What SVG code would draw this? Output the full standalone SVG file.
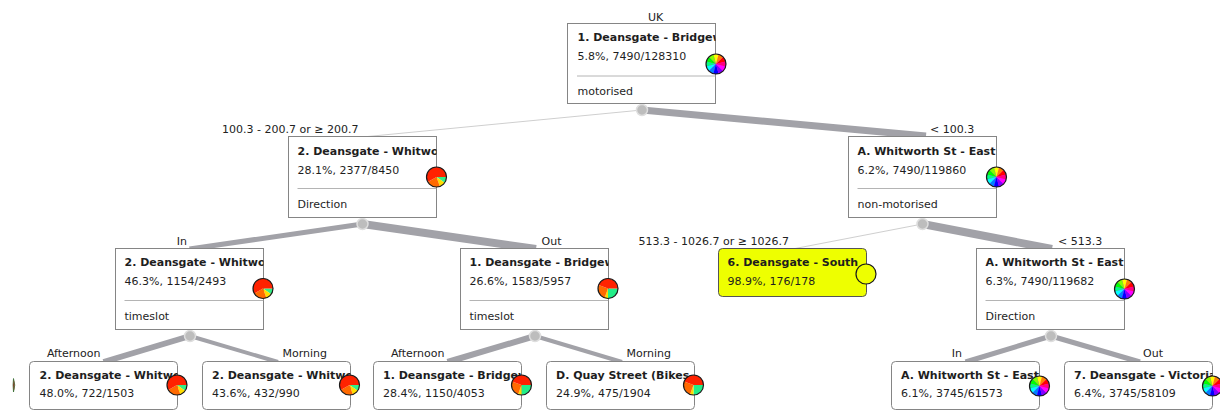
<svg xmlns="http://www.w3.org/2000/svg" xmlns:xlink="http://www.w3.org/1999/xlink" width="1220" height="413" viewBox="0 0 1220 413">
<style>
.box{fill:#fff;stroke:#858585;stroke-width:1}
.yel{fill:#eeff00;stroke:#555;stroke-width:1}
.t{font-family:"DejaVu Sans",Verdana,sans-serif;font-size:11px;fill:#1e1e1e}
.b{font-weight:bold}
.sep{stroke:#b4b4b4;stroke-width:1}
.lbl{font-family:"DejaVu Sans",Verdana,sans-serif;font-size:11px;fill:#222}
.end{text-anchor:end}
.edge{stroke:#a2a2a8;fill:none}
.thin{stroke:#cfcfcf;stroke-width:1}
.dot{fill:#bdbdbd;stroke:#dedede;stroke-width:1.5}
.ring{fill:none;stroke:#1a1a1a;stroke-width:1.2}
</style>
<defs>
<g id="pieRainbow">
<circle r="10" fill="#ff00ff"/>
<path d="M0,0 L9.659,-2.588 A10,10 0 0 0 7.071,-7.071 Z" fill="#ff0000"/>
<path d="M0,0 L7.071,-7.071 A10,10 0 0 0 2.588,-9.659 Z" fill="#ff8000"/>
<path d="M0,0 L2.588,-9.659 A10,10 0 0 0 -2.588,-9.659 Z" fill="#ffff00"/>
<path d="M0,0 L-2.588,-9.659 A10,10 0 0 0 -7.071,-7.071 Z" fill="#80ff00"/>
<path d="M0,0 L-7.071,-7.071 A10,10 0 0 0 -9.659,-2.588 Z" fill="#00ff00"/>
<path d="M0,0 L-9.659,-2.588 A10,10 0 0 0 -9.659,2.588 Z" fill="#00ff80"/>
<path d="M0,0 L-9.659,2.588 A10,10 0 0 0 -7.071,7.071 Z" fill="#00ffff"/>
<path d="M0,0 L-7.071,7.071 A10,10 0 0 0 -2.588,9.659 Z" fill="#0080ff"/>
<path d="M0,0 L-2.588,9.659 A10,10 0 0 0 2.588,9.659 Z" fill="#0000ff"/>
<path d="M0,0 L2.588,9.659 A10,10 0 0 0 7.071,7.071 Z" fill="#8000ff"/>
<path d="M0,0 L7.071,7.071 A10,10 0 0 0 9.659,2.588 Z" fill="#ff00ff"/>
<path d="M0,0 L9.659,2.588 A10,10 0 0 0 9.659,-2.588 Z" fill="#ff0080"/>
<circle r="10" class="ring"/>
</g>
<g id="pieRedA">
<path d="M0,0 L10,0 A10,10 0 0 1 8.192,5.736 Z" fill="#33ee88"/>
<path d="M0,0 L8.192,5.736 A10,10 0 0 1 3.420,9.397 Z" fill="#ffdd00"/>
<path d="M0,0 L3.420,9.397 A10,10 0 0 1 -8.660,5.0 Z" fill="#ff6a00"/>
<path d="M0,0 L-8.660,5.0 A10,10 0 1 1 10,0 Z" fill="#ff2200"/>
<circle r="10" class="ring"/>
</g>
<g id="pieRedB">
<path d="M0,0 L10,0 A10,10 0 0 1 0,10 Z" fill="#22ee88"/>
<path d="M0,0 L0,10 A10,10 0 0 1 -3.420,9.397 Z" fill="#ffdd00"/>
<path d="M0,0 L-3.420,9.397 A10,10 0 0 1 -9.397,-3.420 Z" fill="#ff6a00"/>
<path d="M0,0 L-9.397,-3.420 A10,10 0 0 1 10,0 Z" fill="#ff2200"/>
<circle r="10" class="ring"/>
</g>
<g id="pieYellow">
<circle r="10" fill="#eeff00" stroke="#1a1a1a" stroke-width="1.2"/>
</g>
</defs>

<g id="connectors">
<line class="thin" x1="642" y1="110" x2="362.5" y2="137"/>
<line class="edge" stroke-width="7" x1="642" y1="110" x2="926" y2="136"/>
<line class="edge" stroke-width="5" x1="362.5" y1="224" x2="189.5" y2="249"/>
<line class="edge" stroke-width="8" x1="362.5" y1="224" x2="536" y2="249"/>
<line class="thin" x1="922.5" y1="224" x2="792.5" y2="249"/>
<line class="edge" stroke-width="8" x1="922.5" y1="224" x2="1052" y2="249"/>
<line class="edge" stroke-width="6" x1="190" y1="336" x2="103.5" y2="362"/>
<line class="edge" stroke-width="4" x1="190" y1="336" x2="278" y2="362"/>
<line class="edge" stroke-width="6" x1="535" y1="336" x2="447.5" y2="362"/>
<line class="edge" stroke-width="4" x1="535" y1="336" x2="622" y2="362"/>
<line class="edge" stroke-width="5" x1="1051" y1="336" x2="965.5" y2="362"/>
<line class="edge" stroke-width="5" x1="1051" y1="336" x2="1140" y2="362"/>
<circle class="dot" cx="642" cy="110" r="5.5"/>
<circle class="dot" cx="362.5" cy="224" r="5.5"/>
<circle class="dot" cx="922.5" cy="224" r="5.5"/>
<circle class="dot" cx="190" cy="336" r="5.5"/>
<circle class="dot" cx="535" cy="336" r="5.5"/>
<circle class="dot" cx="1051" cy="336" r="5.5"/>
<text class="lbl" x="648" y="20.5">UK</text>
<text class="lbl end" x="358.5" y="132.5">100.3 - 200.7 or ≥ 200.7</text>
<text class="lbl" x="930" y="132.5">&lt; 100.3</text>
<text class="lbl end" x="187" y="245">In</text>
<text class="lbl" x="541.5" y="245">Out</text>
<text class="lbl end" x="789" y="245">513.3 - 1026.7 or ≥ 1026.7</text>
<text class="lbl" x="1058" y="245">&lt; 513.3</text>
<text class="lbl end" x="100.5" y="357">Afternoon</text>
<text class="lbl" x="282.5" y="357">Morning</text>
<text class="lbl end" x="444.5" y="357">Afternoon</text>
<text class="lbl" x="626.5" y="357">Morning</text>
<text class="lbl end" x="962" y="357">In</text>
<text class="lbl" x="1143" y="357">Out</text>
</g>

<g id="n-root">
<rect class="box" x="567.5" y="23.5" width="148" height="80"/>
<svg x="567.5" y="23.5" width="148" height="80">
<text class="t b" x="10" y="17.5">1. Deansgate - Bridgew</text>
<text class="t" x="10" y="36.5">5.8%, 7490/128310</text>
<line class="sep" x1="9.5" y1="52.5" x2="148" y2="52.5"/>
<text class="t" x="10" y="71.5">motorised</text>
</svg>
<use href="#pieRainbow" x="716" y="64"/>
</g>

<g id="n-l2a">
<rect class="box" x="288.5" y="136.5" width="148" height="81"/>
<svg x="288.5" y="136.5" width="148" height="81">
<text class="t b" x="9" y="18.5">2. Deansgate - Whitwo</text>
<text class="t" x="9" y="37">28.1%, 2377/8450</text>
<line class="sep" x1="9" y1="52" x2="148" y2="52"/>
<text class="t" x="9" y="71.5">Direction</text>
</svg>
<use href="#pieRedA" x="436.5" y="177"/>
</g>

<g id="n-l2b">
<rect class="box" x="848.5" y="136.5" width="148" height="81"/>
<svg x="848.5" y="136.5" width="148" height="81">
<text class="t b" x="9" y="18.5">A. Whitworth St - East</text>
<text class="t" x="9" y="37">6.2%, 7490/119860</text>
<line class="sep" x1="9" y1="52" x2="148" y2="52"/>
<text class="t" x="9" y="71.5">non-motorised</text>
</svg>
<use href="#pieRainbow" x="996.5" y="177"/>
</g>

<g id="n-l3a">
<rect class="box" x="115.5" y="248.5" width="148" height="81"/>
<svg x="115.5" y="248.5" width="148" height="81">
<text class="t b" x="9" y="17.5">2. Deansgate - Whitwo</text>
<text class="t" x="9" y="36.5">46.3%, 1154/2493</text>
<line class="sep" x1="9" y1="52" x2="148" y2="52"/>
<text class="t" x="9" y="71.5">timeslot</text>
</svg>
<use href="#pieRedA" x="263" y="288.5"/>
</g>

<g id="n-l3b">
<rect class="box" x="460.5" y="248.5" width="148" height="81"/>
<svg x="460.5" y="248.5" width="148" height="81">
<text class="t b" x="9" y="17.5">1. Deansgate - Bridgew</text>
<text class="t" x="9" y="36.5">26.6%, 1583/5957</text>
<line class="sep" x1="9" y1="52" x2="148" y2="52"/>
<text class="t" x="9" y="71.5">timeslot</text>
</svg>
<use href="#pieRedB" x="608" y="288.5"/>
</g>

<g id="n-l3c">
<rect class="yel" x="718.5" y="248.5" width="148" height="48" rx="4"/>
<svg x="718.5" y="248.5" width="148" height="48">
<text class="t b" x="9" y="17">6. Deansgate - South</text>
<text class="t" x="9" y="36">98.9%, 176/178</text>
</svg>
<use href="#pieYellow" x="866" y="274"/>
</g>

<g id="n-l3d">
<rect class="box" x="976.5" y="248.5" width="148" height="81"/>
<svg x="976.5" y="248.5" width="148" height="81">
<text class="t b" x="9" y="17.5">A. Whitworth St - East</text>
<text class="t" x="9" y="36.5">6.3%, 7490/119682</text>
<line class="sep" x1="9" y1="52" x2="148" y2="52"/>
<text class="t" x="9" y="71.5">Direction</text>
</svg>
<use href="#pieRainbow" x="1124.5" y="289"/>
</g>

<g id="n-l4a">
<rect class="box" x="29.5" y="361.5" width="148" height="48" rx="4"/>
<svg x="29.5" y="361.5" width="148" height="48">
<text class="t b" x="10" y="17">2. Deansgate - Whitwo</text>
<text class="t" x="10" y="35.5">48.0%, 722/1503</text>
</svg>
<use href="#pieRedA" x="177" y="385"/>
</g>

<g id="n-l4b">
<rect class="box" x="202.5" y="361.5" width="148" height="48" rx="4"/>
<svg x="202.5" y="361.5" width="148" height="48">
<text class="t b" x="9.5" y="17">2. Deansgate - Whitwo</text>
<text class="t" x="9.5" y="35.5">43.6%, 432/990</text>
</svg>
<use href="#pieRedA" x="349.5" y="385"/>
</g>

<g id="n-l4c">
<rect class="box" x="373.5" y="361.5" width="148" height="48" rx="4"/>
<svg x="373.5" y="361.5" width="148" height="48">
<text class="t b" x="9.5" y="17">1. Deansgate - Bridgew</text>
<text class="t" x="9.5" y="35.5">28.4%, 1150/4053</text>
</svg>
<use href="#pieRedB" x="521.5" y="385"/>
</g>

<g id="n-l4d">
<rect class="box" x="546.5" y="361.5" width="148" height="48" rx="4"/>
<svg x="546.5" y="361.5" width="148" height="48">
<text class="t b" x="9.5" y="17">D. Quay Street (Bikes</text>
<text class="t" x="9.5" y="35.5">24.9%, 475/1904</text>
</svg>
<use href="#pieRedB" x="693.5" y="385"/>
</g>

<g id="n-l4e">
<rect class="box" x="891.5" y="361.5" width="148" height="48" rx="4"/>
<svg x="891.5" y="361.5" width="148" height="48">
<text class="t b" x="9.5" y="17">A. Whitworth St - East</text>
<text class="t" x="9.5" y="35.5">6.1%, 3745/61573</text>
</svg>
<use href="#pieRainbow" x="1039.5" y="386"/>
</g>

<g id="n-l4f">
<rect class="box" x="1064.5" y="361.5" width="148" height="48" rx="4"/>
<svg x="1064.5" y="361.5" width="148" height="48">
<text class="t b" x="9.5" y="17">7. Deansgate - Victoria</text>
<text class="t" x="9.5" y="35.5">6.4%, 3745/58109</text>
</svg>
<use href="#pieRainbow" x="1212.5" y="386"/>
</g>

<path d="M13.5,378.5 Q16,385 13.5,392 Q12.5,385 13.5,378.5 Z" fill="#b02a2a" stroke="#2a6a2a" stroke-width="0.7"/>
</svg>
